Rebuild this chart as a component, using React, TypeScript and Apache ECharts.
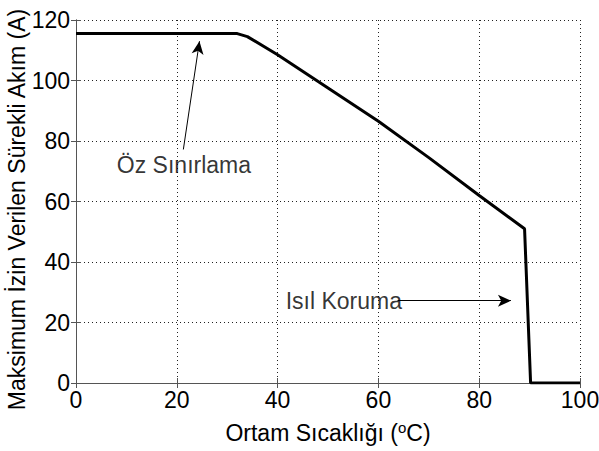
import React, { useEffect, useRef } from "react";
import * as echarts from "echarts";

const temperatures = [0, 32, 34, 40, 50, 60, 70, 80, 89, 90.2, 100];
const currents = [115.5, 115.5, 114.5, 108.5, 97.5, 86.5, 74.5, 62, 51, 0, 0];

const annotationTexts = ["Öz Sınırlama", "Isıl Koruma"];
const annotationPoints = [
  [8.1, 72.2],
  [41.6, 27.2],
];
const arrowStarts = [
  [21.3, 77.2],
  [63.8, 27.2],
];
const arrowEnds = [
  [24.5, 113],
  [86.3, 27.2],
];

const FONT = "'Liberation Sans', Arial, Helvetica, sans-serif";
const FS = 23;

export default function App() {
  const ref = useRef<HTMLDivElement>(null);
  useEffect(() => {
    if (!ref.current) return;
    const chart = echarts.init(ref.current, undefined, { renderer: "svg" });
    const gridDash = { color: "#222", width: 1, type: [1, 3] as number[] };
    const axisLine = { show: true, lineStyle: { color: "#555", width: 1 } };
    chart.setOption({
      animation: false,
      backgroundColor: "#fff",
      textStyle: { fontFamily: FONT },
      grid: { left: 76, right: 19, top: 20, bottom: 68, containLabel: false, outerBoundsMode: "none" },
      xAxis: [
        {
          type: "value",
          min: 0,
          max: 100,
          interval: 20,
          axisLine,
          axisTick: { show: true, inside: true, length: 5, lineStyle: { color: "#555" } },
          axisLabel: { color: "#000", fontSize: FS, fontFamily: FONT, margin: 5 },
          splitLine: { show: true, lineStyle: gridDash },
          name: "{a|Ortam Sıcaklığı (}{s|o}{a|C)}",
          nameLocation: "middle",
          nameGap: 37,
          nameMoveOverlap: false,
          nameTextStyle: {
            rich: {
              a: { fontSize: FS, color: "#000", fontFamily: FONT, lineHeight: 25 },
              s: { fontSize: 15, color: "#000", fontFamily: FONT, verticalAlign: "top", lineHeight: 15 },
            },
          },
        },
        {
          type: "value",
          position: "top",
          min: 0,
          max: 100,
          interval: 20,
          axisLine,
          axisTick: { show: true, inside: true, length: 5, lineStyle: { color: "#555" } },
          axisLabel: { show: false },
          splitLine: { show: false },
        },
      ],
      yAxis: [
        {
          type: "value",
          min: 0,
          max: 120,
          interval: 20,
          axisLine,
          axisTick: { show: true, inside: true, length: 5, lineStyle: { color: "#555" } },
          axisLabel: { color: "#000", fontSize: FS, fontFamily: FONT, margin: 6 },
          splitLine: { show: true, lineStyle: gridDash },
          name: "Maksimum İzin Verilen Sürekli Akım (A)",
          nameLocation: "middle",
          nameGap: 48,
          nameMoveOverlap: false,
          nameTextStyle: { color: "#000", fontSize: 23, fontFamily: FONT, padding: [0, 16, 0, 0] },
        },
        {
          type: "value",
          position: "right",
          min: 0,
          max: 120,
          interval: 20,
          axisLine,
          axisTick: { show: true, inside: true, length: 5, lineStyle: { color: "#555" } },
          axisLabel: { show: false },
          splitLine: { show: false },
        },
      ],
      series: [
        {
          type: "line",
          data: temperatures.map((t, i) => [t, currents[i]]),
          showSymbol: false,
          lineStyle: { color: "#000", width: 3 },
          markLine: {
            silent: true,
            symbol: ["none", "arrow"],
            symbolSize: [9, 13],
            label: { show: false },
            lineStyle: { color: "#000", width: 1, type: "solid" },
            data: arrowStarts.map((s, i) => [{ coord: s }, { coord: arrowEnds[i] }]),
          },
        },
        {
          type: "scatter",
          symbolSize: 0,
          data: annotationPoints.map((p, i) => ({ value: p, name: annotationTexts[i] })),
          label: {
            show: true,
            position: "right",
            distance: 0,
            formatter: (p: any) => p.name,
            color: "#000",
            fontSize: FS,
            fontFamily: FONT,
          },
          silent: true,
        },
      ],
    });
    return () => chart.dispose();
  }, []);
  return (
    <div
      ref={ref}
      style={{ position: "fixed", left: 0, top: 0, width: 599, height: 451, background: "#fff" }}
    />
  );
}
